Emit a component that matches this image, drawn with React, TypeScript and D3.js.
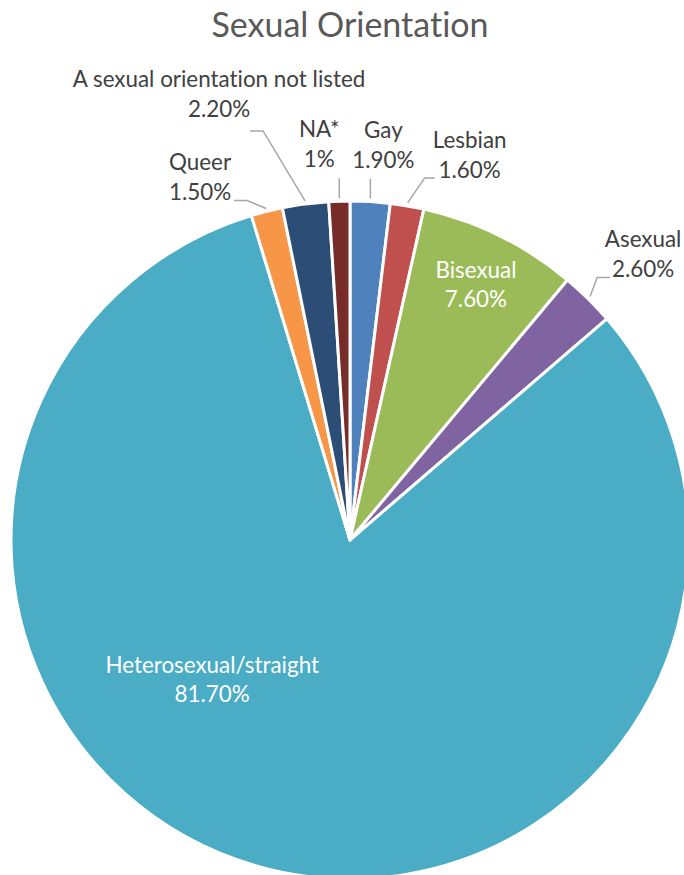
import React from "react";
import * as d3 from "d3";

// slices, clockwise from 12 o'clock
const categories = [
  "Gay",
  "Lesbian",
  "Bisexual",
  "Asexual",
  "Heterosexual/straight",
  "Queer",
  "A sexual orientation not listed",
  "NA*",
];
const values = [1.9, 1.6, 7.6, 2.6, 81.7, 1.5, 2.2, 1];
const valueLabels = ["1.90%", "1.60%", "7.60%", "2.60%", "81.70%", "1.50%", "2.20%", "1%"];
const colors = ["#4F81BD", "#C0504D", "#9BBB59", "#8064A2", "#4BACC6", "#F79646", "#2C4D75", "#772C2A"];

const width = 684;
const height = 875;
const cx = 350;
const cy = 540;
const radius = 339;
const lineGap = 29;
const labelSize = 22.4;
const font = "Lato, 'Noto Sans', sans-serif";
const noLig = { fontVariantLigatures: "none" as const };

// outside labels: offsets from the leader start point on the rim
const outsideLayout: Record<string, { elbow: [number, number]; end: [number, number]; text: [number, number] }> = {
  Gay: { elbow: [0, -20], end: [0, -20], text: [13, -31] },
  Lesbian: { elbow: [17, -25], end: [27, -25], text: [62, -25] },
  Asexual: { elbow: [7, -19], end: [20, -19], text: [53, -19] },
  Queer: { elbow: [-19, -8], end: [-32, -8], text: [-66, -8] },
  "A sexual orientation not listed": { elbow: [-42, -70], end: [-55, -70], text: [-86, -84] },
  "NA*": { elbow: [0, -20], end: [0, -20], text: [-20, -31] },
};

// inside labels: radius fraction for the centroid plus a nudge
const insideLayout: Record<string, { r: number; dx: number; dy: number }> = {
  Bisexual: { r: 0.84, dx: 0, dy: 0 },
  "Heterosexual/straight": { r: 0.58, dx: -83, dy: -49 },
};

const App = () => {
  const data = categories.map((c, i) => ({ name: c, value: values[i], label: valueLabels[i], color: colors[i] }));
  const pie = d3
    .pie<any>()
    .value((d) => d.value)
    .sort(null);
  const arcs = pie(data);
  const arc = d3.arc<any>().innerRadius(0).outerRadius(radius);

  const rimPoint = (a: any, r: number) => {
    const mid = (a.startAngle + a.endAngle) / 2;
    return [Math.sin(mid) * r, -Math.cos(mid) * r];
  };

  return (
    <div style={{ position: "absolute", left: 0, top: 0 }}>
      <svg width={width} height={height} style={{ display: "block" }}>
        <rect width={width} height={height} fill="#ffffff" />
        <text x={cx} y={37} textAnchor="middle" fontFamily={font} fontSize={34} fill="#595959" style={noLig}>
          Sexual Orientation
        </text>
        <g transform={`translate(${cx},${cy})`}>
          {arcs.map((a, i) => (
            <path key={i} d={arc(a) || ""} fill={a.data.color} stroke="#ffffff" strokeWidth={3} strokeLinejoin="round" />
          ))}
          {arcs.map((a, i) => {
            const lay = outsideLayout[a.data.name];
            if (!lay) return null;
            const [sx, sy] = rimPoint(a, radius + 3);
            const pts = [
              [sx, sy],
              [sx + lay.elbow[0], sy + lay.elbow[1]],
              [sx + lay.end[0], sy + lay.end[1]],
            ];
            const tx = sx + lay.text[0];
            const ty = sy + lay.text[1];
            return (
              <g key={"o" + i}>
                <polyline
                  points={pts.map((p) => p.join(",")).join(" ")}
                  fill="none"
                  stroke="#A6A6A6"
                  strokeWidth={1.5}
                />
                <text textAnchor="middle" fontFamily={font} fontSize={labelSize} fill="#404040" style={noLig}>
                  <tspan x={tx} y={ty - lineGap - 1}>
                    {a.data.name}
                  </tspan>
                  <tspan x={tx} y={ty}>
                    {a.data.label}
                  </tspan>
                </text>
              </g>
            );
          })}
          {arcs.map((a, i) => {
            const lay = insideLayout[a.data.name];
            if (!lay) return null;
            const [px, py] = d3
              .arc<any>()
              .innerRadius(radius * lay.r)
              .outerRadius(radius * lay.r)
              .centroid(a);
            const x = px + lay.dx;
            const y = py + lay.dy;
            return (
              <text key={"i" + i} textAnchor="middle" fontFamily={font} fontSize={labelSize} fill="#ffffff" style={noLig}>
                <tspan x={x} y={y - 7}>
                  {a.data.name}
                </tspan>
                <tspan x={x} y={y + 22}>
                  {a.data.label}
                </tspan>
              </text>
            );
          })}
        </g>
      </svg>
    </div>
  );
};

export default App;
